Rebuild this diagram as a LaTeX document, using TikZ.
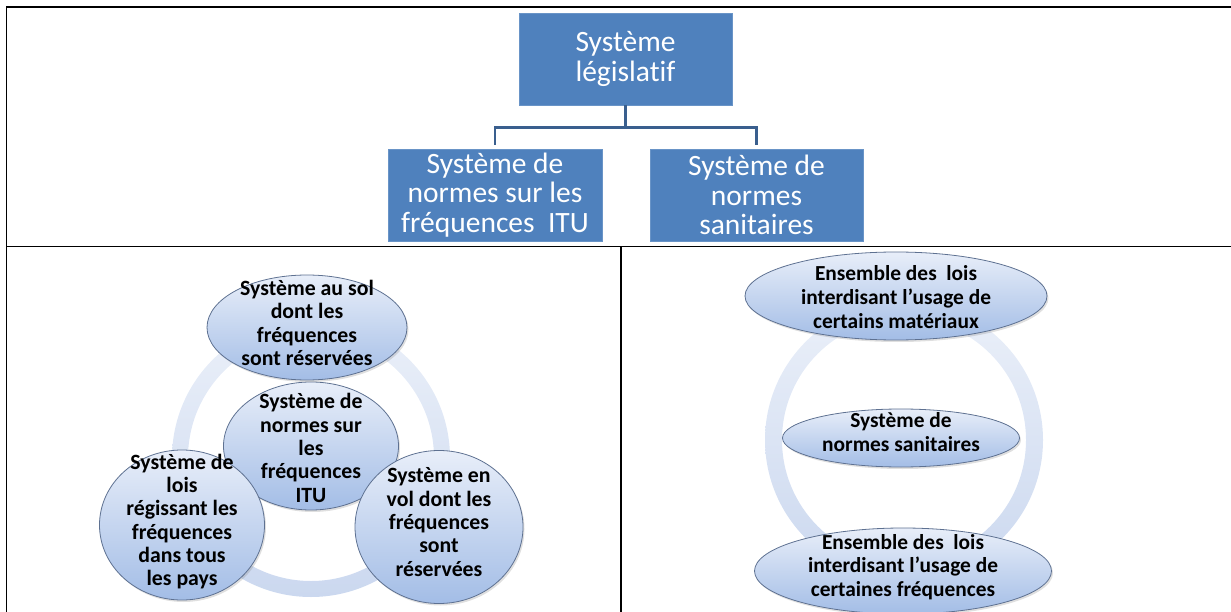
\documentclass[tikz,border=0pt]{standalone}
\usepackage{fontspec}
\setmainfont{Carlito}[Ligatures={NoCommon}]
\usetikzlibrary{shapes.geometric,shadows}
\definecolor{boxblue}{HTML}{4F81BD}
\definecolor{conn}{HTML}{3A5F8E}
\definecolor{elltop}{HTML}{E8EEF9}
\definecolor{ellbot}{HTML}{A3BDE6}
\definecolor{ellline}{HTML}{5E7191}
\definecolor{ringtop}{HTML}{EBF0F9}
\definecolor{ringbot}{HTML}{CBD8EF}
\begin{document}
\begin{tikzpicture}[x=1pt,y=-1pt,
  hbox/.style={rectangle, fill=boxblue, draw=boxblue!85!white, line width=0.6pt, text=white,
    font=\fontsize{29.5}{29.5}\selectfont, align=center, inner sep=0pt},
  bubble/.style={ellipse, draw=ellline, line width=0.8pt, top color=elltop, bottom color=ellbot,
    inner sep=0pt, drop shadow={opacity=0.25, shadow xshift=1.5pt, shadow yshift=-2pt}},
  btext/.style={font=\bfseries\fontsize{21.8}{23.3}\selectfont, align=center, inner sep=0pt, text=black},
  rtext/.style={font=\bfseries\fontsize{21.4}{23.8}\selectfont, align=center, inner sep=0pt, text=black},
  grid/.style={line width=1.5pt, draw=black},
  link/.style={draw=conn, line width=2.8pt},
  ring/.style={top color=ringtop, bottom color=ringbot, even odd rule}
]
\useasboundingbox (0,0) rectangle (1231,612);

% table frame
\draw[grid] (6.5,612) -- (6.5,7) -- (1231,7);
\draw[grid] (6.5,246.5) -- (1231,246.5);
\draw[grid] (621,246.5) -- (621,612);

% hierarchy
\node[hbox, minimum width=213pt, minimum height=92pt] (root) at (625.5,59) {Système\\législatif};
\node[hbox, minimum width=214pt, minimum height=92pt] (itu) at (495,195) {Système de\\normes sur les\\fréquences\ \ ITU};
\node[hbox, minimum width=213pt, minimum height=92pt] (san) at (756.5,195) {Système de\\normes\\sanitaires};
\draw[link] (root.south) -- ++(0,22) coordinate (mid);
\draw[link] ([yshift=4pt]itu.north) |- (mid) -| ([yshift=4pt]san.north);

% left panel
\coordinate (ringL) at (311,458);
\shade[ring] (ringL) circle (139) (ringL) circle (123);
\node[bubble, minimum width=175pt, minimum height=128pt] (cen) at (311,446) {};
\node[bubble, minimum width=200pt, minimum height=105pt] (sol) at (307,327.5) {};
\node[bubble, minimum width=165pt, minimum height=150pt] (lois) at (182,525) {};
\node[bubble, minimum width=168pt, minimum height=153pt] (vol) at (439,527) {};
\node[btext] (cent) at (311,448) {Système de\\normes sur\\les\\fréquences\\ITU};
\node[btext] (solt) at (307,323) {Système au sol\\dont les\\fréquences\\sont réservées};
\node[btext] (loist) at (182,521.5) {Système de\\lois\\régissant les\\fréquences\\dans tous\\les pays};
\node[btext] (volt) at (439,522) {Système en\\vol dont les\\fréquences\\sont\\réservées};

% right panel
\coordinate (ringR) at (904,440);
\shade[ring] (ringR) circle (139) (ringR) circle (122);
\node[bubble, minimum width=302pt, minimum height=88pt] (mat) at (896,296) {};
\node[bubble, minimum width=237pt, minimum height=58pt] (sanc) at (901,438) {};
\node[bubble, minimum width=297pt, minimum height=86pt] (freq) at (903,571) {};
\node[rtext] (matt) at (896,297) {Ensemble des\ \ lois\\interdisant l’usage de\\certains matériaux};
\node[rtext] (sanct) at (901,432) {Système de\\normes sanitaires};
\node[rtext] (freqt) at (903,567) {Ensemble des\ \ lois\\interdisant l’usage de\\certaines fréquences};
\end{tikzpicture}
\end{document}
